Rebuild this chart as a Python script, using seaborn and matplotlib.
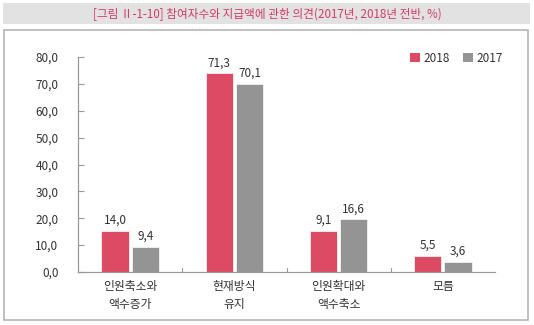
import matplotlib
matplotlib.use("Agg")
import matplotlib.pyplot as plt
import seaborn as sns
import pandas as pd
from matplotlib.patches import Rectangle, Patch

categories = ["인원축소와\n액수증가", "현재방식\n유지", "인원확대와\n액수축소", "모름"]
series = ["2018", "2017"]
heights_2018 = [15.2, 73.9, 15.2, 5.9]
heights_2017 = [9.4, 70.1, 19.6, 3.7]
labels_2018 = ["14,0", "71,3", "9,1", "5,5"]
labels_2017 = ["9,4", "70,1", "16,6", "3,6"]
yticks = [0, 10, 20, 30, 40, 50, 60, 70, 80]
ytick_labels = ["0,0", "10,0", "20,0", "30,0", "40,0", "50,0", "60,0", "70,0", "80,0"]
title = "[그림 Ⅱ-1-10] 참여자수와 지급액에 관한 의견(2017년, 2018년 전반, %)"

sns.set_theme(style="white")
plt.rcParams["font.family"] = ["Noto Sans CJK KR", "DejaVu Sans"]

df = pd.DataFrame({
    "cat": categories * 2,
    "year": ["2018"] * 4 + ["2017"] * 4,
    "val": heights_2018 + heights_2017,
})
colors = {"2018": "#dc4a64", "2017": "#949494"}

fig = plt.figure(figsize=(5.34, 3.25), dpi=100)
# title band
fig.patches.append(Rectangle((3 / 534, 1 - 24 / 325), 527 / 534, 21 / 325,
                             transform=fig.transFigure, facecolor="#e2e2e2",
                             edgecolor="none", zorder=-2))
fig.text(0.5, 1 - 14 / 325, title, ha="center", va="center", fontsize=8.4,
         color="#d33a66", fontweight="medium")
# outer frame
fig.patches.append(Rectangle((4 / 534, 1 - 320 / 325), 524 / 534, 290 / 325,
                             transform=fig.transFigure, facecolor="white",
                             edgecolor="#b5b5b5", linewidth=1.2, zorder=-2))

ax = fig.add_axes([78 / 534, 1 - 272 / 325, 417 / 534, 215 / 325])
ax.set_zorder(5)
ax.patch.set_alpha(0)
sns.barplot(data=df, x="cat", y="val", hue="year", hue_order=series,
            palette=colors, width=0.58, gap=0.1, ax=ax, legend=False,
            edgecolor="#f2f2f2", linewidth=0.6, saturation=1)

ax.set_ylim(0, 80)
ax.set_xlim(-0.5, 3.5)
ax.set_yticks(yticks)
ax.set_yticklabels(ytick_labels, fontsize=8.5, color="#333333")
ax.set_xticks(range(4))
ax.set_xticklabels(categories, fontsize=8.5, color="#333333", linespacing=1.45)
ax.tick_params(axis="x", length=0, pad=6)
ax.tick_params(axis="y", direction="in", length=4, width=0.8, color="#999999",
               pad=14, left=True)
for sep in [0.5, 1.5, 2.5]:
    ax.plot([sep, sep], [0, 1.5], color="#999999", lw=0.8, clip_on=False)
ax.set_xlabel("")
ax.set_ylabel("")
for s in ["top", "right"]:
    ax.spines[s].set_visible(False)
for s in ["left", "bottom"]:
    ax.spines[s].set_color("#999999")
    ax.spines[s].set_linewidth(0.9)

# value labels
for cont, labs in zip(ax.containers, [labels_2018, labels_2017]):
    ax.bar_label(cont, labels=labs, padding=3, fontsize=8.5, color="#333333")

handles = [Patch(facecolor=colors[s], edgecolor="none") for s in series]
ax.legend(handles, series, loc="upper right", bbox_to_anchor=(1.045, 1.075),
          ncol=2, frameon=False, fontsize=8.5, handlelength=0.85,
          handleheight=0.85, handletextpad=0.3, columnspacing=1.1,
          labelcolor="#333333")

fig.savefig("out.png", dpi=100)
